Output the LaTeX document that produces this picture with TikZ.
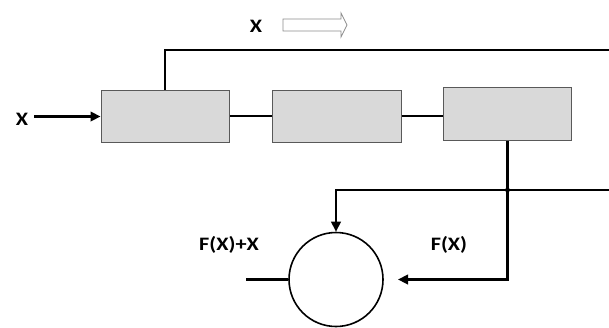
\documentclass[tikz,border=0pt]{standalone}
\usepackage{fontspec}
\setmainfont{Carlito}
\usetikzlibrary{arrows.meta}
\definecolor{boxfill}{HTML}{D9D9D9}
\definecolor{boxline}{HTML}{595959}
\definecolor{hollowline}{HTML}{8C8C8C}
\newcommand{\wtxt}[1]{\scalebox{1.17}[1]{#1}}
\tikzset{
  blockbox/.style={draw=boxline, line width=1pt, fill=boxfill, inner sep=0pt},
  conn/.style={line width=2.4pt, draw=black},
  arr/.style={-{Triangle[length=10pt,width=9.5pt]}},
  lbl/.style={font=\fontsize{19}{22}\selectfont\bfseries, inner sep=0pt},
  sumnode/.style={draw=black, line width=1.6pt, circle, minimum size=94pt, inner sep=0pt}
}
\begin{document}
\begin{tikzpicture}[x=1pt,y=-1pt]
\useasboundingbox (0,0) rectangle (609,327);
% blocks
\node[blockbox, minimum width=128.5pt, minimum height=52pt] (b1) at (165.25,116) {};
\node[blockbox, minimum width=129pt, minimum height=52pt] (b2) at (336.5,116) {};
\node[blockbox, minimum width=128pt, minimum height=52.5pt] (b3) at (507.5,113.75) {};
\node[sumnode] (sum) at (336,279.5) {};
% labels
\node[lbl] (xin) at (22,119.5) {\wtxt{X}};
\node[lbl] (xtop) at (256,26) {\wtxt{X}};
\node[lbl] (fxx) at (229,244.5) {\wtxt{F(X)+X}};
\node[lbl] (fx) at (449,244.5) {\wtxt{F(X)}};
% hollow arrow
\draw[hollowline, line width=0.8pt, fill=white] (283,19) -- (341,19) -- (341,13) -- (347,25) -- (341,37) -- (341,31) -- (283,31) -- cycle;
% coordinates
\coordinate (inst) at (34,116.5);
\coordinate (topend) at (609,50);
\coordinate (midend) at (609,190);
\coordinate (corner) at (336,190);
\coordinate (fxend) at (398,279.5);
\coordinate (outend) at (246,279.5);
% connectors
\draw[conn, arr] (inst) -- (b1.west |- inst);
\draw[conn] (b1.east |- 0,116) -- (b2.west |- 0,116);
\draw[conn] (b2.east |- 0,116) -- (b3.west |- 0,116);
\draw[conn] (b1.north) |- (topend);
\draw[conn, arr] (b3.south) |- (fxend);
\draw[conn, arr] (midend) -- (corner) -- (sum.north);
\draw[conn] (outend) -- (sum.west);
\fill (b3.south |- midend) circle (2.4pt);
\end{tikzpicture}
\end{document}
